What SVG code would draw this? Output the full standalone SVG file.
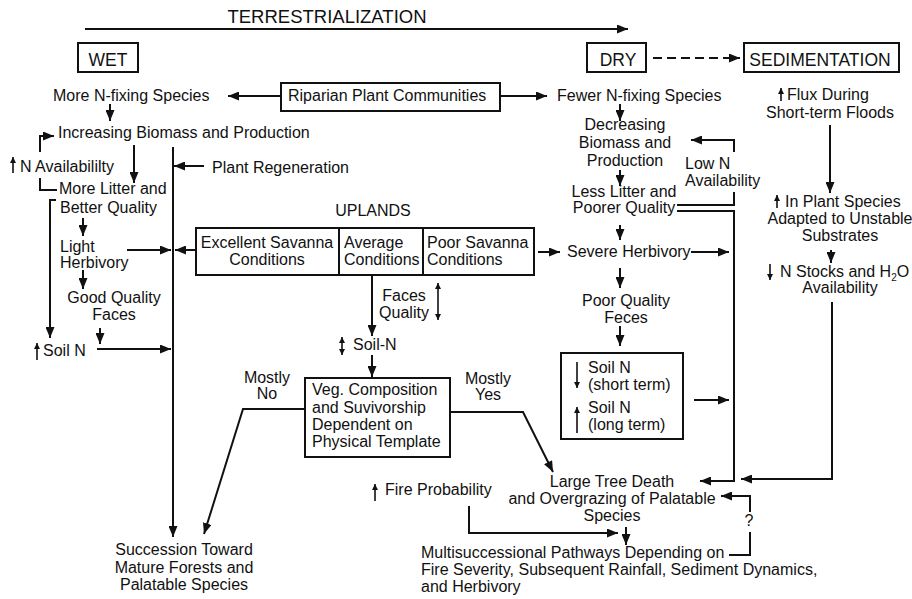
<svg xmlns="http://www.w3.org/2000/svg" width="912" height="599" viewBox="0 0 912 599">
<style>
text{font-family:"Liberation Sans",Arial,sans-serif;font-size:16px;fill:#111}
.t{font-size:18.5px}
.h{font-size:17.5px}
.m{text-anchor:middle}
.box{fill:none;stroke:#111;stroke-width:2}
.c path,.c line{fill:none;stroke:#111;stroke-width:2}
.s line{stroke:#111;stroke-width:1.6}
</style>
<defs>
<marker id="a" markerUnits="userSpaceOnUse" markerWidth="12" markerHeight="9" refX="11" refY="4.5" orient="auto">
<path d="M0,0 L11,4.5 L0,9 z" fill="#111"/>
</marker>
<marker id="sm" markerUnits="userSpaceOnUse" markerWidth="7" markerHeight="7" refX="6" refY="3" orient="auto">
<path d="M0,0 L6,3 L0,6 z" fill="#111"/>
</marker>
<marker id="sms" markerUnits="userSpaceOnUse" markerWidth="7" markerHeight="7" refX="0" refY="3" orient="auto">
<path d="M6,0 L0,3 L6,6 z" fill="#111"/>
</marker>
</defs>
<rect width="912" height="599" fill="#fff"/>

<g id="title"><text class="t m" x="327" y="23">TERRESTRIALIZATION</text></g>
<g id="wet"><rect class="box" x="78" y="43" width="60" height="29"/><text class="h m" x="108" y="66">WET</text></g>
<g id="dry"><rect class="box" x="587" y="43" width="59" height="29"/><text class="h m" x="618" y="66">DRY</text></g>
<g id="sedimentation"><rect class="box" x="744" y="43" width="155" height="29"/><text class="h m" x="820" y="66">SEDIMENTATION</text></g>

<g id="riparian"><rect class="box" x="281" y="83" width="219" height="28"/><text x="288" y="101">Riparian Plant Communities</text></g>
<g id="more-nfix"><text x="53" y="101">More N-fixing Species</text></g>
<g id="fewer-nfix"><text x="557" y="101">Fewer N-fixing Species</text></g>
<g id="flux"><text x="787" y="100">Flux During</text><text class="m" x="830" y="118">Short-term Floods</text></g>

<g id="increasing"><text x="58" y="138">Increasing Biomass and Production</text></g>
<g id="n-avail"><text x="20" y="172">N Availabililty</text></g>
<g id="regeneration"><text x="212" y="173">Plant Regeneration</text></g>
<g id="more-litter"><text x="59" y="194">More Litter and</text><text x="60" y="213">Better Quality</text></g>
<g id="light-herb"><text x="60" y="252">Light</text><text x="60" y="268">Herbivory</text></g>
<g id="good-faces"><text class="m" x="114" y="303">Good Quality</text><text class="m" x="114" y="320">Faces</text></g>
<g id="soil-n-left"><text x="43" y="356">Soil N</text></g>

<g id="uplands">
<text class="m" x="373" y="216">UPLANDS</text>
<rect class="box" x="196" y="228" width="338" height="47"/>
<line x1="339" y1="228" x2="339" y2="275" stroke="#111" stroke-width="2"/>
<line x1="423" y1="228" x2="423" y2="275" stroke="#111" stroke-width="2"/>
<text class="m" x="267" y="248">Excellent Savanna</text><text class="m" x="267" y="265">Conditions</text>
<text x="344" y="248">Average</text><text x="344" y="265">Conditions</text>
<text x="427" y="248">Poor Savanna</text><text x="427" y="265">Conditions</text>
</g>
<g id="faces-quality"><text class="m" x="404" y="301">Faces</text><text class="m" x="404" y="318">Quality</text></g>
<g id="soil-n-mid"><text x="353" y="350">Soil-N</text></g>
<g id="veg"><rect class="box" x="305" y="378" width="145" height="79"/>
<text x="312" y="395">Veg. Composition</text><text x="312" y="413">and Suvivorship</text><text x="312" y="430">Dependent on</text><text x="312" y="447">Physical Template</text></g>
<g id="mostly-no"><text class="m" x="267" y="383">Mostly</text><text class="m" x="267" y="399">No</text></g>
<g id="mostly-yes"><text class="m" x="488" y="384">Mostly</text><text class="m" x="488" y="400">Yes</text></g>

<g id="decreasing"><text class="m" x="625" y="130">Decreasing</text><text class="m" x="625" y="148">Biomass and</text><text class="m" x="625" y="166">Production</text></g>
<g id="low-n"><text x="685" y="169">Low N</text><text x="685" y="186">Availability</text></g>
<g id="less-litter"><text class="m" x="624" y="197">Less Litter and</text><text class="m" x="624" y="213">Poorer Quality</text></g>
<g id="severe"><text x="567" y="257">Severe Herbivory</text></g>
<g id="poor-feces"><text class="m" x="626" y="306">Poor Quality</text><text class="m" x="626" y="323">Feces</text></g>
<g id="soil-n-box"><rect class="box" x="561" y="353" width="122" height="86"/>
<text x="588" y="373">Soil N</text><text x="588" y="390">(short term)</text><text x="588" y="413">Soil N</text><text x="588" y="430">(long term)</text></g>

<g id="plant-species"><text x="785" y="207">In Plant Species</text><text class="m" x="840" y="224">Adapted to Unstable</text><text class="m" x="840" y="241">Substrates</text></g>
<g id="n-stocks"><text x="780" y="277">N Stocks and H<tspan font-size="10" dy="4">2</tspan><tspan dy="-4">O</tspan></text><text class="m" x="840" y="293">Availability</text></g>

<g id="large-tree"><text class="m" x="612" y="487">Large Tree Death</text><text class="m" x="612" y="504">and Overgrazing of Palatable</text><text class="m" x="612" y="521">Species</text></g>
<g id="fire"><text x="385" y="495">Fire Probability</text></g>
<g id="multi"><text x="421" y="558">Multisuccessional Pathways Depending on</text><text x="421" y="575">Fire Severity, Subsequent Rainfall, Sediment Dynamics,</text><text x="421" y="592">and Herbivory</text></g>
<g id="succession"><text class="m" x="184" y="555">Succession Toward</text><text class="m" x="184" y="573">Mature Forests and</text><text class="m" x="184" y="590">Palatable Species</text></g>
<g id="question"><text class="m" x="749" y="526">?</text></g>

<g id="connectors" class="c">
<line x1="85" y1="29" x2="628" y2="29" marker-end="url(#a)"/>
<line x1="653" y1="58" x2="740" y2="58" stroke-dasharray="9,5" marker-end="url(#a)"/>
<line x1="281" y1="96" x2="228" y2="96" marker-end="url(#a)"/>
<line x1="500" y1="96" x2="547" y2="96" marker-end="url(#a)"/>
<line x1="110" y1="104" x2="110" y2="121" marker-end="url(#a)"/>
<path d="M40,152 V136 H54" marker-end="url(#a)"/>
<path d="M40,178 V190 H57"/>
<line x1="134" y1="145" x2="134" y2="183" marker-end="url(#a)"/>
<line x1="173" y1="147" x2="173" y2="537" marker-end="url(#a)"/>
<line x1="204" y1="166" x2="174" y2="166" marker-end="url(#a)"/>
<path d="M56,200 H50 V338" marker-end="url(#a)"/>
<line x1="83" y1="218" x2="83" y2="236" marker-end="url(#a)"/>
<line x1="127" y1="250" x2="171" y2="250" marker-end="url(#a)"/>
<line x1="83" y1="270" x2="83" y2="289" marker-end="url(#a)"/>
<line x1="100" y1="328" x2="100" y2="344" marker-end="url(#a)"/>
<line x1="97" y1="349" x2="171" y2="349" marker-end="url(#a)"/>
<line x1="196" y1="250" x2="175" y2="250" marker-end="url(#a)"/>
<line x1="372" y1="276" x2="372" y2="336" marker-end="url(#a)"/>
<line x1="372" y1="355" x2="372" y2="377" marker-end="url(#a)"/>
<path d="M305,409 H243 L204,534" marker-end="url(#a)"/>
<path d="M450,412 H523 L553,472" marker-end="url(#a)"/>
<line x1="620" y1="104" x2="620" y2="121" marker-end="url(#a)"/>
<line x1="620" y1="170" x2="620" y2="186" marker-end="url(#a)"/>
<path d="M734,152 V140 H691" marker-end="url(#a)"/>
<path d="M677,205 H734 V192"/>
<path d="M677,211 H734 V481 H700" marker-end="url(#a)"/>
<line x1="620" y1="225" x2="620" y2="240" marker-end="url(#a)"/>
<line x1="538" y1="252" x2="560" y2="252" marker-end="url(#a)"/>
<line x1="691" y1="252" x2="729" y2="252" marker-end="url(#a)"/>
<line x1="620" y1="268" x2="620" y2="288" marker-end="url(#a)"/>
<line x1="620" y1="326" x2="620" y2="346" marker-end="url(#a)"/>
<line x1="694" y1="400" x2="729" y2="400" marker-end="url(#a)"/>
<line x1="830" y1="125" x2="830" y2="193" marker-end="url(#a)"/>
<line x1="831" y1="250" x2="831" y2="263" marker-end="url(#a)"/>
<path d="M832,302 V479 H741" marker-end="url(#a)"/>
<path d="M469,506 V533 H618" marker-end="url(#a)"/>
<line x1="626" y1="527" x2="626" y2="545" marker-end="url(#a)"/>
<path d="M729,555 H750 V532"/>
<path d="M750,512 V496 H721" marker-end="url(#a)"/>
</g>

<g id="symbols" class="s">
<line x1="13" y1="173" x2="13" y2="157" marker-end="url(#sm)"/>
<line x1="37" y1="360" x2="37" y2="343" marker-end="url(#sm)"/>
<line x1="781" y1="101" x2="781" y2="88" marker-end="url(#sm)"/>
<line x1="777" y1="208" x2="777" y2="195" marker-end="url(#sm)"/>
<line x1="770" y1="264" x2="770" y2="280" marker-end="url(#sm)"/>
<line x1="438" y1="283" x2="438" y2="320" marker-start="url(#sms)" marker-end="url(#sm)"/>
<line x1="342" y1="337" x2="342" y2="355" marker-start="url(#sms)" marker-end="url(#sm)"/>
<line x1="577" y1="362" x2="577" y2="388" marker-end="url(#sm)"/>
<line x1="577" y1="433" x2="577" y2="407" marker-end="url(#sm)"/>
<line x1="375" y1="501" x2="375" y2="484" marker-end="url(#sm)"/>
</g>
</svg>
